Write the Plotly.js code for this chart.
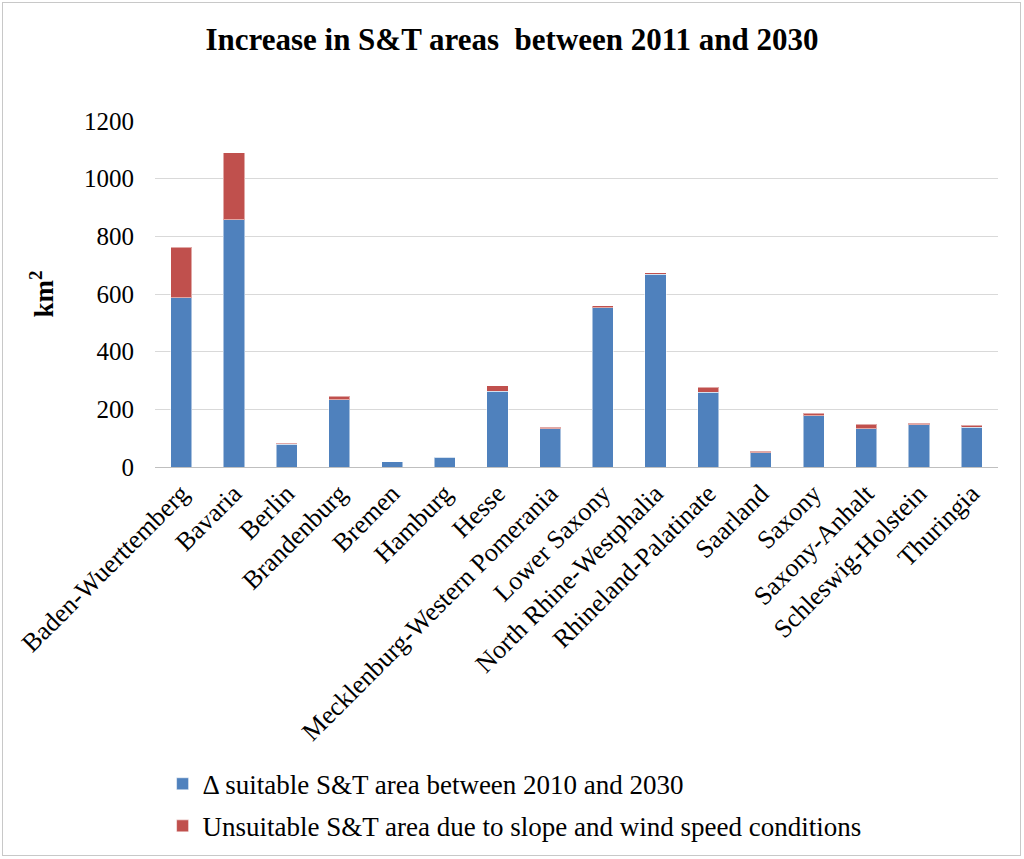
<!DOCTYPE html>
<html><head><meta charset="utf-8">
<script src="https://cdn.plot.ly/plotly-3.0.1.min.js"></script>
<style>body{margin:0;background:#fff}#wrap{position:relative;width:1024px;height:859px}
#border{position:absolute;left:2px;top:2px;width:1017px;height:852px;border:1px solid #c8c8c8;pointer-events:none}</style>
</head><body><div id="wrap"><div id="chart" style="width:1024px;height:859px"></div><div id="border"></div></div>
<script>
const categories = ["Baden-Wuerttemberg","Bavaria","Berlin","Brandenburg","Bremen","Hamburg","Hesse","Mecklenburg-Western Pomerania","Lower Saxony","North Rhine-Westphalia","Rhineland-Palatinate","Saarland","Saxony","Saxony-Anhalt","Schleswig-Holstein","Thuringia"];
const suitable = [587,857,79,234,19,33,263,133,553,668,260,50,178,132,147,138];
const unsuitable = [176,233,3,12,0,0,18,5,6,5,17,5,9,16,5,7];
const yTicks = [0,200,400,600,800,1000,1200];
const serif = "Liberation Serif, Times New Roman, serif";
const traces = [
  {type:"bar", x:categories, y:suitable, name:"\u0394 suitable S&T area between 2010 and 2030", legendgroup:"a",
   marker:{color:"#4F81BD", line:{color:"rgba(255,255,255,0.5)", width:1}}},
  {type:"bar", x:categories, y:unsuitable, name:"Unsuitable S&T area due to slope and wind speed conditions", legendgroup:"b",
   marker:{color:"#C0504D", line:{color:"rgba(255,255,255,0.5)", width:1}}}
];
const layout = {
  width:1024, height:859, barmode:"stack", bargap:0.6,
  margin:{l:155, r:26, t:121, b:392, autoexpand:false},
  paper_bgcolor:"#fff", plot_bgcolor:"#fff",
  font:{family:serif, size:25, color:"#000"},
  title:{text:"<b>Increase in S&T areas  between 2011 and 2030</b>", font:{family:serif, size:31, color:"#000"}, x:0.5, xanchor:"center", y:0.955, yanchor:"middle"},
  xaxis:{tickangle:-45, tickfont:{family:serif, size:26}, showline:true, linecolor:"#bfbfbf", linewidth:1, ticks:"", automargin:false},
  yaxis:{range:[0,1200], tickvals:yTicks, ticktext:yTicks.map(String), gridcolor:"#d9d9d9", gridwidth:1, zeroline:false,
         tickfont:{family:serif, size:25}, ticklabelstandoff:20, automargin:false,
         title:{text:"<b>km<sup>2</sup></b>", font:{family:serif, size:27}, standoff:22}},
  showlegend:true,
  legend:{orientation:"v", x:0.009, xanchor:"left", y:-0.846, yanchor:"top", traceorder:"grouped", tracegroupgap:4,
          font:{family:serif, size:27}, bgcolor:"rgba(0,0,0,0)"}
};
Plotly.newPlot("chart", traces, layout, {displayModeBar:false, staticPlot:true});
</script></body></html>
